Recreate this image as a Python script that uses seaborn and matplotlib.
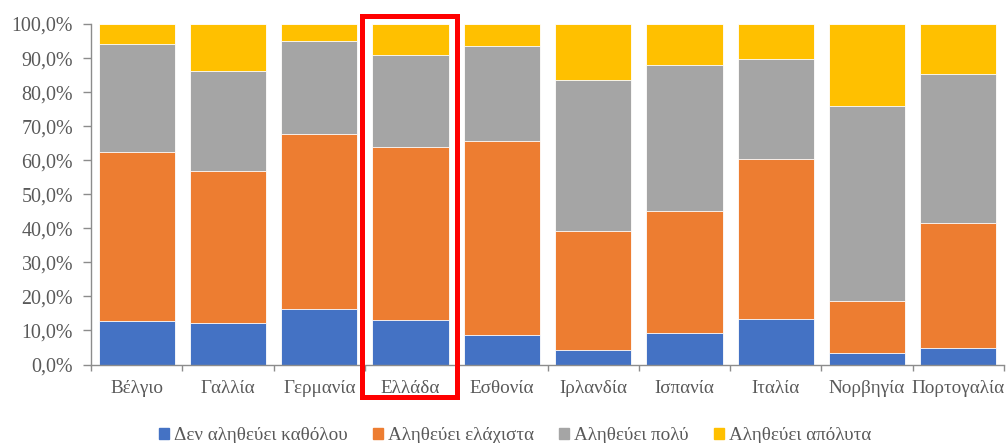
import matplotlib
matplotlib.use("Agg")
import matplotlib.pyplot as plt
import matplotlib.patches as mpatches
from matplotlib.ticker import FuncFormatter, MultipleLocator
import seaborn as sns
import pandas as pd
import numpy as np

countries = ["Βέλγιο", "Γαλλία", "Γερμανία", "Ελλάδα", "Εσθονία",
             "Ιρλανδία", "Ισπανία", "Ιταλία", "Νορβηγία", "Πορτογαλία"]
series_names = ["Δεν αληθεύει καθόλου", "Αληθεύει ελάχιστα",
                "Αληθεύει πολύ", "Αληθεύει απόλυτα"]
not_true = [12.7, 12.1, 16.3, 13.2, 8.6, 4.2, 9.3, 13.5, 3.4, 4.9]
slightly = [49.6, 44.7, 51.3, 50.6, 57.1, 34.9, 35.7, 46.8, 15.3, 36.8]
very = [31.7, 29.4, 27.5, 27.1, 27.7, 44.4, 42.9, 29.4, 57.3, 43.7]
absolutely = [6.0, 13.8, 4.9, 9.1, 6.6, 16.5, 12.1, 10.3, 24.0, 14.6]
colors = ["#4472C4", "#ED7D31", "#A5A5A5", "#FFC000"]

sns.set_theme(style="white")
plt.rcParams["font.family"] = "serif"
plt.rcParams["font.serif"] = ["Liberation Serif", "DejaVu Serif"]

series = [not_true, slightly, very, absolutely]
cum = np.cumsum(np.array(series), axis=0)
cum = cum / cum[-1] * 100  # normalise to 100%

fig = plt.figure(figsize=(10.06, 4.43), dpi=100)
ax = fig.add_axes([91/1006, 1 - 364.5/443, (1004 - 91)/1006, (364.5 - 24)/443])

for i in reversed(range(4)):
    df = pd.DataFrame({"country": countries, "value": cum[i]})
    sns.barplot(data=df, x="country", y="value", color=colors[i], width=0.835,
                ax=ax, edgecolor="white", linewidth=0.6, saturation=1)

ax.set_ylim(0, 100)
ax.set_xlim(-0.5, len(countries) - 0.5)
ax.yaxis.set_major_locator(MultipleLocator(10))
ax.yaxis.set_major_formatter(FuncFormatter(lambda v, p: f"{v:.1f}%".replace(".", ",")))
ax.set_xlabel("")
ax.set_ylabel("")

label_color = "#595959"
axis_color = "#8C8C8C"
for side in ["top", "right"]:
    ax.spines[side].set_visible(False)
for side in ["left", "bottom"]:
    ax.spines[side].set_color(axis_color)
    ax.spines[side].set_linewidth(1.0)

fs = 13.8
ax.tick_params(axis="y", which="both", left=True, length=6, width=1, color=axis_color,
               labelsize=fs + 0.6, labelcolor=label_color, pad=7)
ax.set_xticks(np.arange(len(countries)))
ax.set_xticklabels(countries)
ax.tick_params(axis="x", which="major", bottom=False, labelsize=fs,
               labelcolor=label_color, pad=5.5)
ax.set_xticks(np.arange(-0.5, len(countries)), minor=True)
ax.tick_params(axis="x", which="minor", bottom=True, length=4.5, width=1, color=axis_color)

handles = [mpatches.Patch(color=c, label=n) for c, n in zip(colors, series_names)]
leg = fig.legend(handles=handles, loc="center", bbox_to_anchor=(515/1006, 1 - 436/443),
                 ncol=4, frameon=False, fontsize=fs, handlelength=0.55, handleheight=0.55,
                 handletextpad=0.25, columnspacing=1.3, labelcolor=label_color,
                 borderpad=0, borderaxespad=0)

rect = mpatches.Rectangle((361.5/1006, 1 - 396.5/443), 95/1006, 381/443,
                          transform=fig.transFigure, fill=False, edgecolor="#FF0000",
                          linewidth=3.6, clip_on=False, zorder=10)
fig.patches.append(rect)

fig.savefig("out.png", dpi=100)
